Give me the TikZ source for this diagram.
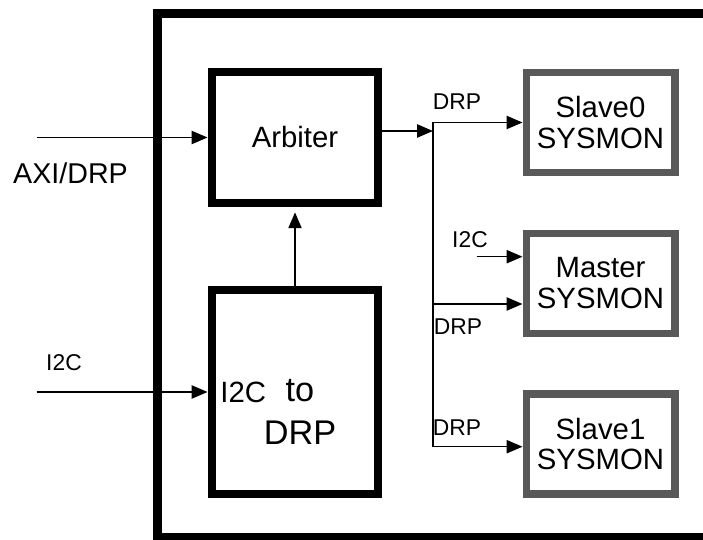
\documentclass[tikz,border=0pt]{standalone}
\usepackage{fontspec}
\setmainfont{Liberation Sans}
\usetikzlibrary{arrows.meta,calc,positioning}
\definecolor{sysgray}{RGB}{89,89,89}
\tikzset{
  frame/.style={
    line width = 5.1pt
  },
  block/.style={
    draw,
    line width = 5.1pt,
    inner sep = 0pt,
    minimum width = 3.32cm,
    align = center,
    font = \fontsize{16.7}{17.6}\selectfont
  },
  sysmon/.style={
    draw = sysgray,
    line width = 4pt,
    inner sep = 0pt,
    minimum width = 2.98cm,
    minimum height = 2cm,
    align = center,
    font = \fontsize{16.7}{17.6}\selectfont
  },
  wire/.style={
    line width = 0.8pt,
    -{Triangle[length=9pt,width=7.5pt]}
  },
  lbl/.style={
    anchor = base,
    inner sep = 0pt,
    font = \fontsize{13}{15}\selectfont
  },
}

\begin{document}
\begin{tikzpicture}[x=0.02cm,y=-0.02cm]
  \useasboundingbox (0,0) rectangle (703,540);
  \clip (0,0) rectangle (703,540);
  % outer frame, runs off the right and bottom
  \draw[frame] (157.5,13.5) rectangle (730,537);
  % blocks
  \node[block,minimum height=2.62cm] (arb) at (295,137.5) {Arbiter};
  \node[block,minimum height=4.08cm] (i2cdrp) at (295,392) {};
  \node[anchor=base west,inner sep=0pt,font=\fontsize{16.7}{18}\selectfont] (i2cname) at (220,402) {I2C};
  \node[anchor=base,inner sep=0pt,align=center,font=\fontsize{19.5}{24.4}\selectfont] (todrp) at (300,444) {to\\DRP};
  \node[sysmon] (s0) at (600.5,122.5) {Slave0\\SYSMON};
  \node[sysmon] (mst) at (600.5,283.5) {Master\\SYSMON};
  \node[sysmon] (s1) at (600.5,444) {Slave1\\SYSMON};
  % inputs
  \coordinate (axi) at (36.7,137.5);
  \coordinate (i2cin) at (36.7,392);
  \coordinate (mi2c) at (476.7,256.7);
  \draw[wire] (axi) -- (arb.west);
  \draw[wire] (i2cin) -- (i2cdrp.west);
  \draw[wire,shorten >=2.8pt] (i2cdrp.north) -- (arb.south);
  \draw[wire] (mi2c) -- (mi2c -| mst.west);
  \node[anchor=base,inner sep=0pt,font=\fontsize{16.3}{18}\selectfont] (axilbl) at (70.5,184) {AXI/DRP};
  \node[lbl] (i2clbl) at (64,371) {I2C};
  \node[lbl] (mi2clbl) at (470,248) {I2C};
  % DRP bus
  \coordinate (bin) at (433,131);
  \coordinate (b0) at (433,122.5);
  \coordinate (b1) at (433,304);
  \coordinate (b2) at (433,446.7);
  \draw[wire] (bin -| arb.east) -- (bin);
  \draw[line width=0.8pt] (b0) -- (b2);
  \draw[wire] (b0) -- (s0.west);
  \draw[wire] (b1) -- (b1 -| mst.west);
  \draw[wire] (b2) -- (b2 -| s1.west);
  \node[lbl] (drp0) at (457,109.3) {DRP};
  \node[lbl] (drp1) at (458,335) {DRP};
  \node[lbl] (drp2) at (457,435) {DRP};
\end{tikzpicture}
\end{document}
